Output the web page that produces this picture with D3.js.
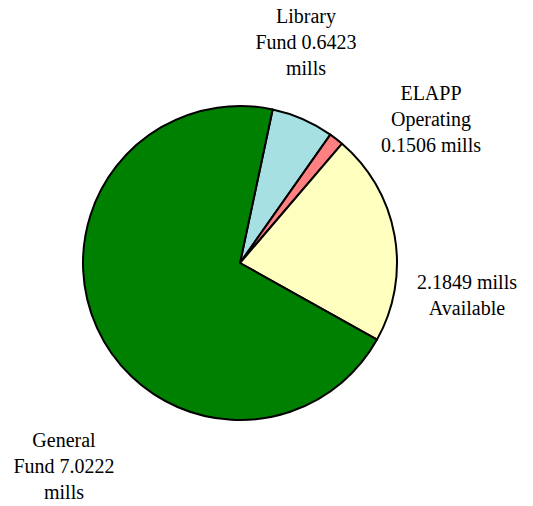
<!DOCTYPE html>
<html>
<head>
<meta charset="utf-8">
<script src="https://cdn.jsdelivr.net/npm/d3@7"></script>
<style>
  html, body { margin: 0; padding: 0; background: #fff; }
  svg { display: block; }
  text { font-family: "Liberation Serif", "Times New Roman", serif; font-size: 20px; fill: #000; }
</style>
</head>
<body>
<svg id="chart" width="533" height="506"></svg>
<script>
// data, clockwise from the Library slice
var categories = ["Library Fund", "ELAPP Operating", "Available", "General Fund"];
var values = [0.6423, 0.1506, 2.1849, 7.0222];
var labelLines = [
  ["Library", "Fund 0.6423", "mills"],
  ["ELAPP", "Operating", "0.1506 mills"],
  ["2.1849 mills", "Available"],
  ["General", "Fund 7.0222", "mills"]
];
var colors = ["#a6e0e2", "#ff8080", "#ffffc0", "#008000"];

// layout
var width = 533, height = 506;
var cx = 240, cy = 263, radius = 157;
var startAngle = 12 * Math.PI / 180;
var lineHeight = 26;
// label anchors: x centre, baseline of first line
var labelPos = [[306, 23], [431, 100], [467, 289], [64, 447]];

var svg = d3.select("#chart");
var g = svg.append("g").attr("transform", "translate(" + cx + "," + cy + ")");

var pie = d3.pie()
  .sort(null)
  .value(function (d) { return d; })
  .startAngle(startAngle)
  .endAngle(startAngle + 2 * Math.PI);

var arc = d3.arc().innerRadius(0).outerRadius(radius);

g.selectAll("path")
  .data(pie(values))
  .enter().append("path")
  .attr("d", arc)
  .attr("fill", function (d, i) { return colors[i]; })
  .attr("stroke", "#000")
  .attr("stroke-width", 2)
  .attr("stroke-linejoin", "round");

var labels = svg.selectAll("text.label")
  .data(labelLines)
  .enter().append("text")
  .attr("class", "label")
  .attr("text-anchor", "middle");

labels.each(function (lines, i) {
  var t = d3.select(this);
  lines.forEach(function (line, j) {
    t.append("tspan")
      .attr("x", labelPos[i][0])
      .attr("y", labelPos[i][1] + j * lineHeight)
      .text(line);
  });
});
</script>
</body>
</html>
